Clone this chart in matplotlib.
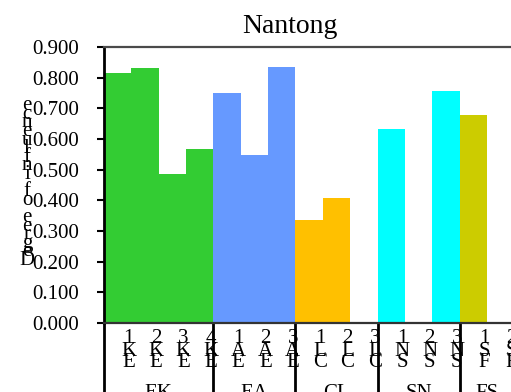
import matplotlib
matplotlib.use("Agg")
import matplotlib.pyplot as plt

# Data
categories = ["EK1", "EK2", "EK3", "EK4",
              "EA1", "EA2", "EA3",
              "CL1", "CL2", "CL3",
              "SN1", "SN2", "SN3",
              "FS1", "FS2"]
values = [0.815, 0.833, 0.487, 0.567,
          0.750, 0.548, 0.834,
          0.335, 0.406, 0.0,
          0.632, 0.0, 0.757,
          0.677, 0.0]
groups = ["EK", "EA", "CL", "SN", "FS"]
group_sizes = [4, 3, 3, 3, 2]
group_colors = ["#33cc33", "#6699ff", "#ffc000", "#00ffff", "#cccc00"]
yticks = [0.0, 0.1, 0.2, 0.3, 0.4, 0.5, 0.6, 0.7, 0.8, 0.9]
title = "Nantong"
ylabel = "Degree of influence"

plt.rcParams["font.family"] = ["Liberation Serif", "DejaVu Serif"]

W, H = 511, 392
fig = plt.figure(figsize=(W / 100, H / 100), dpi=100)
slot = 27.35
ax = fig.add_axes([104 / W, 69 / H, 15 * slot / W, 276 / H])

# Bar colours per group
colors = []
for c, n in zip(group_colors, group_sizes):
    colors += [c] * n

x = list(range(len(categories)))
ax.bar(x, values, width=1.0, align="edge", color=colors, linewidth=0)
ax.set_xlim(0, len(categories))
ax.set_ylim(0, 0.9)

fs = 15
ax.set_yticks(yticks)
ax.set_yticklabels([f"{v:.3f}" for v in yticks], fontsize=fs)
ax.tick_params(axis="y", direction="out", length=5, width=1.5, pad=13,
               colors="black")
ax.set_xticks([])

ax.spines["right"].set_visible(False)
ax.spines["top"].set_color("#4a4a4a")
ax.spines["top"].set_linewidth(1.6)
ax.spines["bottom"].set_color("#333333")
ax.spines["bottom"].set_linewidth(1.6)
ax.spines["left"].set_color("black")
ax.spines["left"].set_linewidth(2)

xt = ax.get_xaxis_transform()
px = 276.0  # axes height in pixels

def yfrac(pix_below_axis):
    return -pix_below_axis / px

# Group separators extending below the axis
bounds = [0]
for n in group_sizes:
    bounds.append(bounds[-1] + n)
for b in bounds[:-1]:
    ax.plot([b, b], [0, yfrac(80)], transform=xt, color="black", lw=2,
            clip_on=False, solid_capstyle="butt")

# Stacked category labels (characters placed bottom to top)
base_offsets = [44, 33, 20]  # baseline pixels below axis, bottom char first
for i, lab in enumerate(categories):
    for j, ch in enumerate(lab):
        ax.text(i + 0.9, yfrac(base_offsets[j]), ch, transform=xt,
                ha="center", va="baseline", fontsize=fs)

# Group labels
for g, b0, n in zip(groups, bounds[:-1], group_sizes):
    ax.text(b0 + n / 2, yfrac(75), g, transform=xt, ha="center",
            va="baseline", fontsize=fs)

# Stacked y-axis label
for k, ch in enumerate(ylabel):
    fig.text(27 / W, (H - 265 + k * 8.6) / H, ch, ha="center",
             va="baseline", fontsize=fs)

fig.text(290 / W, (H - 33) / H, title, ha="center", va="baseline",
         fontsize=20)

fig.savefig("out.png", dpi=100)
